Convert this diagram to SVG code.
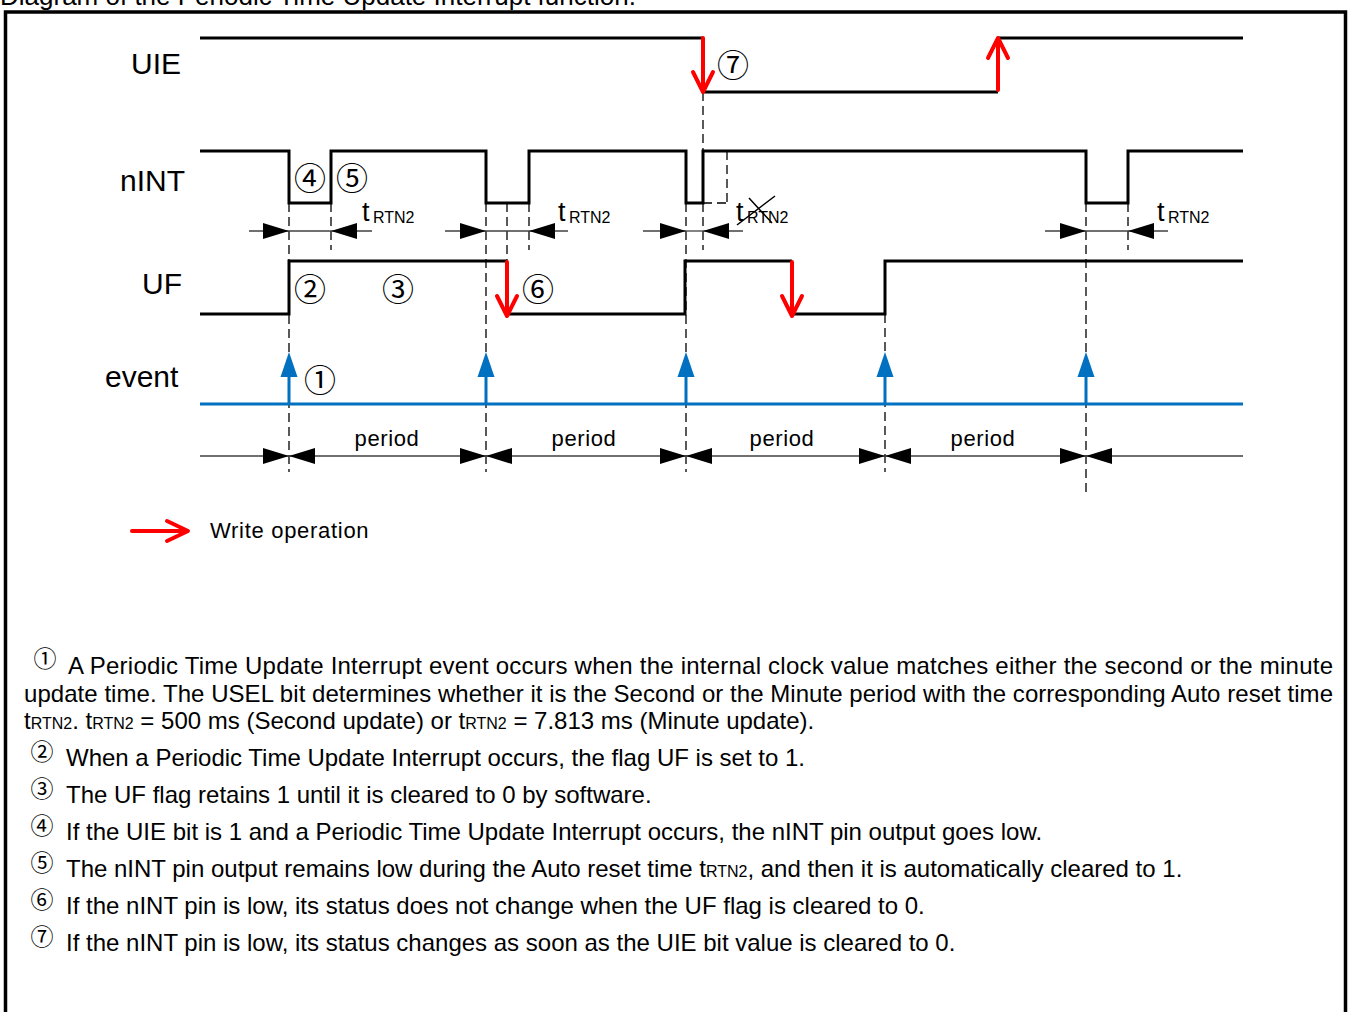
<svg xmlns="http://www.w3.org/2000/svg" width="1350" height="1012" viewBox="0 0 1350 1012">
<style>
text{font-family:"Liberation Sans",Arial,sans-serif;fill:#000}
.lbl{font-size:30px}
.circ{font-family:"Noto Sans CJK JP","DejaVu Sans",sans-serif;font-size:32px;text-anchor:middle;dominant-baseline:central}
.circs{font-family:"Noto Sans CJK JP","DejaVu Sans",sans-serif;font-size:23px;text-anchor:middle;dominant-baseline:central}
.sig{fill:none;stroke:#000;stroke-width:3}
.dash{fill:none;stroke:#000;stroke-width:1.3;stroke-dasharray:9,5}
.dim{fill:none;stroke:#404040;stroke-width:1.3}
.red{fill:none;stroke:#FF0000;stroke-width:4;stroke-linecap:round;stroke-linejoin:round}
.blue{fill:none;stroke:#0070C0;stroke-width:3}
.t{font-size:27px}
.sub{font-size:16px}
.per{font-size:22px;letter-spacing:0.6px;text-anchor:middle}
.para{font-size:24px}
.ps{font-size:16px}
</style>
<defs>
<marker id="ah" markerUnits="userSpaceOnUse" markerWidth="26" markerHeight="16" viewBox="0 0 26 16" refX="26" refY="8" orient="auto-start-reverse">
<path d="M0,0 L26,8 L0,16 z" fill="#000"/>
</marker>
<path id="evarrow" d="M0,352 L-8.5,377 L8.5,377 z" fill="#0070C0"/>
</defs>

<text x="0" y="5" font-size="26">Diagram of the Periodic Time Update Interrupt function.</text>
<rect x="5.5" y="12" width="1340" height="1010" fill="none" stroke="#000" stroke-width="3.5"/>

<g id="labels">
<text class="lbl" x="131" y="74">UIE</text>
<text class="lbl" x="120" y="191">nINT</text>
<text class="lbl" x="142" y="294">UF</text>
<text class="lbl" x="105" y="387">event</text>
</g>

<g id="connectors">
<path class="dash" d="M289,203 V472 M331,203 V250 M486,203 V472 M507,203 V261 M529,203 V250 M686,203 V472 M703,92 V151 M703,203 V250 M727,151 V203 M703,203 H727 M885,314 V472 M1086,203 V497 M1128,203 V250"/>
<path class="dim" d="M249,231 H289" marker-end="url(#ah)"/>
<path class="dim" d="M289,231 H331"/>
<path class="dim" d="M372,231 H331" marker-end="url(#ah)"/>
<path class="dim" d="M445,231 H486" marker-end="url(#ah)"/>
<path class="dim" d="M486,231 H529"/>
<path class="dim" d="M568,231 H529" marker-end="url(#ah)"/>
<path class="dim" d="M643,231 H686" marker-end="url(#ah)"/>
<path class="dim" d="M686,231 H703"/>
<path class="dim" d="M743,231 H703" marker-end="url(#ah)"/>
<path class="dim" d="M1045,231 H1086" marker-end="url(#ah)"/>
<path class="dim" d="M1086,231 H1128"/>
<path class="dim" d="M1168,231 H1128" marker-end="url(#ah)"/>
<path class="dim" d="M200,456 H289" marker-end="url(#ah)"/>
<path class="dim" d="M289,456 H486" marker-start="url(#ah)" marker-end="url(#ah)"/>
<path class="dim" d="M486,456 H686" marker-start="url(#ah)" marker-end="url(#ah)"/>
<path class="dim" d="M686,456 H885" marker-start="url(#ah)" marker-end="url(#ah)"/>
<path class="dim" d="M885,456 H1086" marker-start="url(#ah)" marker-end="url(#ah)"/>
<path class="dim" d="M1243,456 H1086" marker-end="url(#ah)"/>
</g>

<g id="uie">
<path class="sig" d="M200,38 H703 M703,92 H998 M998,38 H1243"/>
<path class="red" d="M703,38 V90 M693,72 L703,92 L713,72"/>
<path class="red" d="M998,90 V40 M988,58 L998,38 L1008,58"/>
<text class="circ" x="733" y="63">⑦</text>
</g>

<g id="nint">
<path class="sig" d="M200,151 H289 V203 H331 V151 H486 V203 H529 V151 H686 V203 H703 V151 H1086 V203 H1128 V151 H1243"/>
<text class="circ" x="310" y="176">④</text>
<text class="circ" x="352" y="176">⑤</text>
<text class="t" x="362" y="221">t</text><text class="sub" x="373" y="223">RTN2</text>
<text class="t" x="558" y="221">t</text><text class="sub" x="569" y="223">RTN2</text>
<text class="t" x="736" y="221">t</text><text class="sub" x="747" y="223">RTN2</text>
<path d="M737,225 L775,196 M749,198 L772,223" stroke="#000" stroke-width="1.5" fill="none"/>
<text class="t" x="1157" y="221">t</text><text class="sub" x="1168" y="223">RTN2</text>
</g>

<g id="uf">
<path class="sig" d="M200,314 H289 V261 H507 M507,314 H685 V261 H792 M792,314 H885 V261 H1243"/>
<path class="red" d="M507,262 V314 M497,296 L507,316 L517,296"/>
<path class="red" d="M792,262 V314 M782,296 L792,316 L802,296"/>
<text class="circ" x="310" y="287">②</text>
<text class="circ" x="398" y="287">③</text>
<text class="circ" x="538" y="287">⑥</text>
</g>

<g id="event">
<path class="blue" d="M200,404 H1243 M289,404 V372 M486,404 V372 M686,404 V372 M885,404 V372 M1086,404 V372"/>
<use href="#evarrow" x="289"/>
<use href="#evarrow" x="486"/>
<use href="#evarrow" x="686"/>
<use href="#evarrow" x="885"/>
<use href="#evarrow" x="1086"/>
<text class="circ" x="320" y="378">①</text>
</g>

<g id="periods">
<text class="per" x="387" y="446">period</text>
<text class="per" x="584" y="446">period</text>
<text class="per" x="782" y="446">period</text>
<text class="per" x="983" y="446">period</text>
</g>

<g id="legend">
<path class="red" d="M132,531 H186 M167,521 L188,531 L167,541"/>
<text x="210" y="538" font-size="22" letter-spacing="0.7">Write operation</text>
</g>

<g id="notes">
<text class="circs" x="45" y="657">①</text>
<text class="para" x="68" y="674" textLength="1265" lengthAdjust="spacing">A Periodic Time Update Interrupt event occurs when the internal clock value matches either the second or the minute</text>
<text class="para" x="24" y="702" textLength="1309" lengthAdjust="spacing">update time. The USEL bit determines whether it is the Second or the Minute period with the corresponding Auto reset time</text>
<text class="para" x="24" y="729">t<tspan class="ps">RTN2</tspan>. t<tspan class="ps">RTN2</tspan> = 500 ms (Second update) or t<tspan class="ps">RTN2</tspan> = 7.813 ms (Minute update).</text>
<text class="circs" x="42" y="750">②</text>
<text class="para" x="66" y="766">When a Periodic Time Update Interrupt occurs, the flag UF is set to 1.</text>
<text class="circs" x="42" y="787">③</text>
<text class="para" x="66" y="803">The UF flag retains 1 until it is cleared to 0 by software.</text>
<text class="circs" x="42" y="824">④</text>
<text class="para" x="66" y="840">If the UIE bit is 1 and a Periodic Time Update Interrupt occurs, the nINT pin output goes low.</text>
<text class="circs" x="42" y="861">⑤</text>
<text class="para" x="66" y="877">The nINT pin output remains low during the Auto reset time t<tspan class="ps">RTN2</tspan>, and then it is automatically cleared to 1.</text>
<text class="circs" x="42" y="898">⑥</text>
<text class="para" x="66" y="914">If the nINT pin is low, its status does not change when the UF flag is cleared to 0.</text>
<text class="circs" x="42" y="935">⑦</text>
<text class="para" x="66" y="951">If the nINT pin is low, its status changes as soon as the UIE bit value is cleared to 0.</text>
</g>
</svg>
